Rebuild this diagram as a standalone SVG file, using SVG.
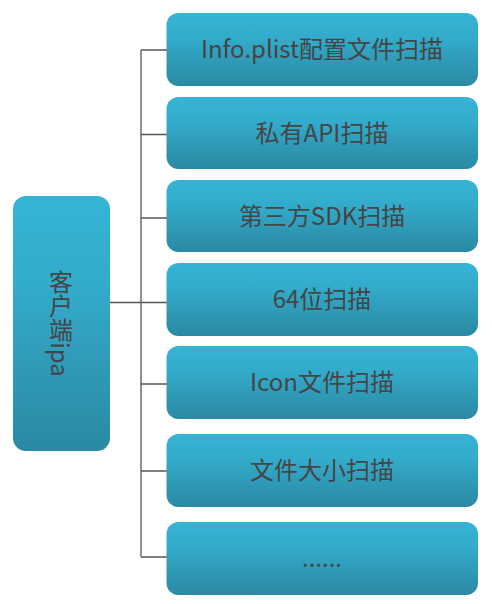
<svg xmlns="http://www.w3.org/2000/svg" width="492" height="604" viewBox="0 0 492 604">
<defs>
<linearGradient id="g" x1="0" y1="0" x2="0" y2="1">
<stop offset="0" stop-color="#36b4d6"/>
<stop offset="0.35" stop-color="#33abcb"/>
<stop offset="1" stop-color="#2a89a2"/>
</linearGradient>
<style>
.box{fill:url(#g);}
.t{font-family:"Noto Sans CJK SC","Microsoft YaHei",sans-serif;font-size:24px;fill:#454545;text-anchor:middle;}
.c{stroke:#555;stroke-width:1.3;fill:none;}
</style>
</defs>
<rect width="492" height="604" fill="#fff"/>
<g id="connectors">
<path class="c" d="M141 50V557"/>
<path class="c" d="M141 50H167M141 134.5H167M141 218H167M141 384H167M141 471H167M141 557H167"/>
<path class="c" d="M110 302.5H167"/>
</g>
<g id="root">
<rect class="box" x="13" y="196" width="97" height="255" rx="13"/>
<text class="t" x="61" y="323.5" style="writing-mode:vertical-rl" dominant-baseline="central">客户端ipa</text>
</g>
<g id="n1"><rect class="box" x="166.5" y="13" width="311.5" height="73" rx="12"/><text class="t" x="322" y="58">Info.plist配置文件扫描</text></g>
<g id="n2"><rect class="box" x="166.5" y="97" width="311.5" height="72" rx="12"/><text class="t" x="322" y="142">私有API扫描</text></g>
<g id="n3"><rect class="box" x="166.5" y="180" width="311.5" height="72" rx="12"/><text class="t" x="322" y="225">第三方SDK扫描</text></g>
<g id="n4"><rect class="box" x="166.5" y="263" width="311.5" height="73" rx="12"/><text class="t" x="322" y="308">64位扫描</text></g>
<g id="n5"><rect class="box" x="166.5" y="346" width="311.5" height="73" rx="12"/><text class="t" x="322" y="391">Icon文件扫描</text></g>
<g id="n6"><rect class="box" x="166.5" y="434" width="311.5" height="73" rx="12"/><text class="t" x="322" y="479">文件大小扫描</text></g>
<g id="n7"><rect class="box" x="166.5" y="522" width="311.5" height="73" rx="12"/><text class="t" x="322" y="567">......</text></g>
</svg>
